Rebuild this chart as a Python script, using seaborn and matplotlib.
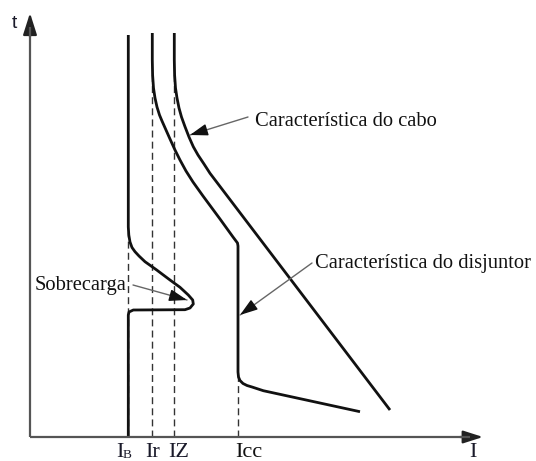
import numpy as np
import pandas as pd
import matplotlib
matplotlib.use("Agg")
import matplotlib.pyplot as plt
import seaborn as sns

# ---- data (schematic units: I to the right, t upwards, origin at axes corner) ----
# breaker characteristic, lower boundary (starts at I_B, overload nose)
brk_low_I = [98.3, 98.3, 98.8, 100, 102, 105, 109, 115, 126.7, 140, 150, 158.3, 162.7, 163.3, 160, 155, 103.3, 99, 98.3, 98.3]
brk_low_t = [402, 210, 202, 195, 189.5, 185.3, 181, 175.3, 167, 157, 149.7, 142, 137, 133, 129, 127.3, 127, 125, 122, 0]
# breaker characteristic, upper boundary (Ir curve down to Icc)
brk_up_I = [122.3, 122.3, 122.6, 123.5, 125, 127, 129.5, 132, 136, 140, 145, 150, 156, 163, 173, 190, 203, 207.5, 208,
            208, 208.5, 210, 213, 217, 222, 233.3, 330]
brk_up_t = [404, 377, 362, 349, 339, 330, 322, 316, 307, 298, 287, 277, 266, 255, 241, 218, 200, 194, 191,
            65, 60, 56.5, 53.5, 51.5, 50, 46.3, 25.3]
# cable characteristic
cable_I = [144.3, 144.3, 144.6, 145.5, 147, 149, 151.5, 155, 159, 163.3, 168, 174, 180, 360]
cable_t = [404, 377, 362, 349, 339, 329, 320, 310.3, 300, 290.3, 282, 273, 263.7, 27]

# reference currents (dashed verticals) and their upper ends
ref_names = ["IB", "Ir", "Iz", "Icc"]
ref_I = [98.3, 122.3, 144.3, 208]
ref_top = [205, 367, 367, 62]

df = pd.concat([
    pd.DataFrame({"I": brk_low_I, "t": brk_low_t, "curve": "brk_low"}),
    pd.DataFrame({"I": brk_up_I, "t": brk_up_t, "curve": "brk_up"}),
    pd.DataFrame({"I": cable_I, "t": cable_t, "curve": "cable"}),
], ignore_index=True)

dash_rows = []
for n, x, top in zip(ref_names, ref_I, ref_top):
    dash_rows.append({"I": x, "t": 0, "curve": n})
    dash_rows.append({"I": x, "t": top, "curve": n})
ddf = pd.DataFrame(dash_rows)

# ---- figure ----
sns.set_theme(style="white")
plt.rcParams["font.family"] = ["Liberation Serif", "DejaVu Serif"]

fig = plt.figure(figsize=(5.36, 4.61), dpi=100)
ax = fig.add_axes([0, 0, 1, 1])
ax.set_xlim(-30, 506)
ax.set_ylim(-24, 437)
ax.axis("off")

# dashed reference lines
sns.lineplot(data=ddf, x="I", y="t", units="curve", estimator=None, sort=False,
             color="#333333", lw=1.0, ax=ax, zorder=2, legend=False)
for ln in ax.get_lines():
    ln.set_linestyle((0, (5, 3)))

# characteristic curves
n_before = len(ax.get_lines())
sns.lineplot(data=df, x="I", y="t", units="curve", estimator=None, sort=False,
             color="#111111", lw=2.0, ax=ax, zorder=3, legend=False)
for ln in ax.get_lines()[n_before:]:
    ln.set_solid_joinstyle("round")
    ln.set_solid_capstyle("butt")
ax.set_xlabel("")
ax.set_ylabel("")

# axes with arrows
ax.plot([0, 0], [0, 410], color="#555555", lw=1.6, zorder=4, solid_capstyle="butt")
ax.plot([0, 440], [0, 0], color="#555555", lw=1.6, zorder=4, solid_capstyle="butt")
ax.annotate("", xy=(0, 424), xytext=(0, 400),
            arrowprops=dict(arrowstyle="-|>,head_length=1.1,head_width=0.35",
                            color="#222222", lw=1.6, shrinkA=0, shrinkB=0))
ax.annotate("", xy=(453, 0), xytext=(430, 0),
            arrowprops=dict(arrowstyle="-|>,head_length=1.0,head_width=0.32",
                            color="#222222", lw=1.6, shrinkA=0, shrinkB=0))

# annotation arrows (gray shaft, black head)
def pointer(start, tip):
    ax.plot([start[0], tip[0]], [start[1], tip[1]], color="#666666", lw=1.0, zorder=5)
    v = np.array(tip) - np.array(start)
    v = v / np.hypot(*v)
    back = np.array(tip) - v * 14
    ax.annotate("", xy=tip, xytext=tuple(back),
                arrowprops=dict(arrowstyle="-|>,head_length=0.9,head_width=0.3",
                                color="#111111", lw=1.0, shrinkA=0, shrinkB=0), zorder=6)

pointer((218, 320), (160, 302))
pointer((282, 174), (210, 122))
pointer((103, 152), (157, 137))

# texts
fs = 14.8
ax.text(225, 311, "Característica do cabo", fontsize=fs, ha="left", va="baseline", color="#111111")
ax.text(285, 169, "Característica do disjuntor", fontsize=fs, ha="left", va="baseline", color="#111111")
ax.text(5, 147, "Sobrecarga", fontsize=fs, ha="left", va="baseline", color="#111111")

ax.text(-18, 409, "t", fontsize=14, ha="left", va="baseline", color="#1a1a2a",
        family=["Liberation Sans", "DejaVu Sans"])

lfs = 16
ax.text(86, -19.5, "I", fontsize=lfs, ha="left", va="baseline", color="#1a1a2a")
ax.text(93, -21.3, "B", fontsize=9.5, ha="left", va="baseline", color="#1a1a2a")
ax.text(115, -19.5, "Ir", fontsize=lfs, ha="left", va="baseline", color="#1a1a2a")
ax.text(138, -19.5, "IZ", fontsize=lfs, ha="left", va="baseline", color="#1a1a2a")
ax.text(205, -19.5, "Icc", fontsize=lfs, ha="left", va="baseline", color="#111111")
ax.text(443, -19.5, "I", fontsize=lfs, ha="center", va="baseline", color="#1a1a2a")

fig.savefig("out.png", dpi=100, facecolor="white")
